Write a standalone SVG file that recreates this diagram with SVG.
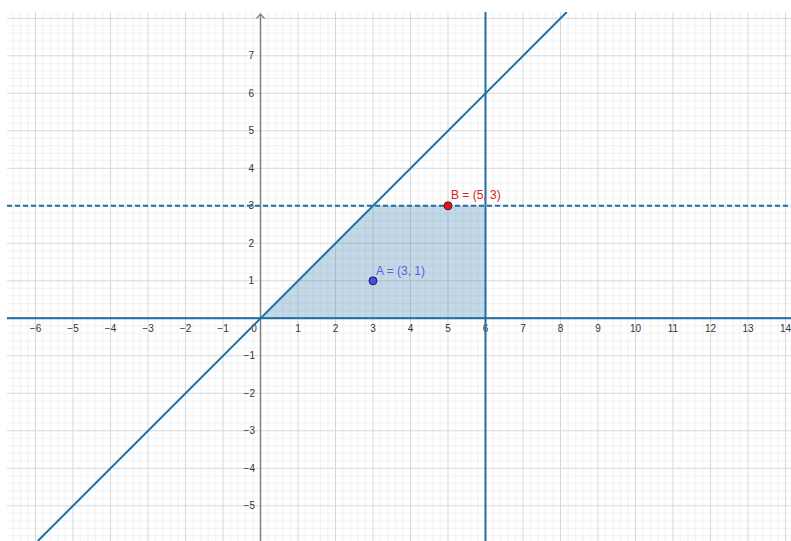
<svg xmlns="http://www.w3.org/2000/svg" width="791" height="541" viewBox="0 0 791 541">
  <defs>
    <pattern id="gridPat" patternUnits="userSpaceOnUse" x="260" y="317.8" width="37.5" height="37.5">
      <g fill="#f0f0f0">
        <rect x="7.5" y="0" width="1" height="37.5"/>
        <rect x="15" y="0" width="1" height="37.5"/>
        <rect x="22.5" y="0" width="1" height="37.5"/>
        <rect x="30" y="0" width="1" height="37.5"/>
        <rect x="0" y="7.5" width="37.5" height="1"/>
        <rect x="0" y="15" width="37.5" height="1"/>
        <rect x="0" y="22.5" width="37.5" height="1"/>
        <rect x="0" y="30" width="37.5" height="1"/>
      </g>
      <g fill="#d8d8d8">
        <rect x="0" y="0" width="1" height="37.5"/>
        <rect x="0" y="0" width="37.5" height="1"/>
      </g>
    </pattern>
    <clipPath id="plotClip">
      <rect x="7" y="12" width="784" height="529"/>
    </clipPath>
    <style>
      .tick { font-family: "Liberation Sans", Arial, sans-serif; font-size: 10px; fill: #333333; }
      .tx { text-anchor: middle; }
      .ty { text-anchor: end; }
      .blue { stroke: #206fa3; stroke-width: 2; fill: none; }
      .ptlabel { font-family: "Liberation Sans", Arial, sans-serif; font-size: 12px; }
    </style>
  </defs>

  <rect x="0" y="0" width="791" height="541" fill="#ffffff"/>

  <g id="grid">
    <rect x="7" y="12" width="784" height="529" fill="url(#gridPat)"/>
  </g>

  <g id="region">
    <polygon points="260.5,318.3 373,205.8 485.5,205.8 485.5,318.3" fill="#2a78aa" fill-opacity="0.28"/>
  </g>

  <g id="axes" stroke="#808080" stroke-width="1.5" fill="none">
    <line x1="260.5" y1="541" x2="260.5" y2="14"/>
    <path d="M256.5,18.5 L260.5,14 L264.5,18.5" stroke-width="1.2"/>
    <line x1="7" y1="318.3" x2="791" y2="318.3"/>
  </g>

  <g id="tick-labels" class="tick">
    <g class="tx">
      <text x="35.5" y="332">−6</text>
      <text x="73" y="332">−5</text>
      <text x="110.5" y="332">−4</text>
      <text x="148" y="332">−3</text>
      <text x="185.5" y="332">−2</text>
      <text x="223" y="332">−1</text>
      <text x="254" y="332">0</text>
      <text x="298" y="332">1</text>
      <text x="335.5" y="332">2</text>
      <text x="373" y="332">3</text>
      <text x="410.5" y="332">4</text>
      <text x="448" y="332">5</text>
      <text x="485.5" y="332">6</text>
      <text x="523" y="332">7</text>
      <text x="560.5" y="332">8</text>
      <text x="598" y="332">9</text>
      <text x="635.5" y="332">10</text>
      <text x="673" y="332">11</text>
      <text x="710.5" y="332">12</text>
      <text x="748" y="332">13</text>
      <text x="785.5" y="332">14</text>
    </g>
    <g class="ty">
      <text x="254" y="59.3">7</text>
      <text x="254" y="96.8">6</text>
      <text x="254" y="134.3">5</text>
      <text x="254" y="171.8">4</text>
      <text x="254" y="209.3">3</text>
      <text x="254" y="246.8">2</text>
      <text x="254" y="284.3">1</text>
      <text x="255" y="359.3">−1</text>
      <text x="255" y="396.8">−2</text>
      <text x="255" y="434.3">−3</text>
      <text x="255" y="471.8">−4</text>
      <text x="255" y="509.3">−5</text>
    </g>
  </g>

  <g id="connectors" clip-path="url(#plotClip)">
    <line id="line-y0" class="blue" x1="7" y1="318.3" x2="791" y2="318.3"/>
    <line id="line-x6" class="blue" x1="485.5" y1="12" x2="485.5" y2="541"/>
    <line id="line-yx" class="blue" x1="37.8" y1="541" x2="566.8" y2="12"/>
    <line id="line-y3" class="blue" x1="7" y1="205.8" x2="791" y2="205.8" stroke-dasharray="5,3"/>
  </g>

  <g id="pointA">
    <circle cx="373" cy="280.8" r="4" fill="#4b4be6" stroke="#1a1a66" stroke-width="1"/>
    <text class="ptlabel" x="376" y="275" fill="#5a5ae6">A = (3, 1)</text>
  </g>
  <g id="pointB">
    <circle cx="448" cy="205.8" r="4" fill="#e01818" stroke="#661010" stroke-width="1"/>
    <text class="ptlabel" x="451" y="199" fill="#e02020">B = (5, 3)</text>
  </g>
</svg>
